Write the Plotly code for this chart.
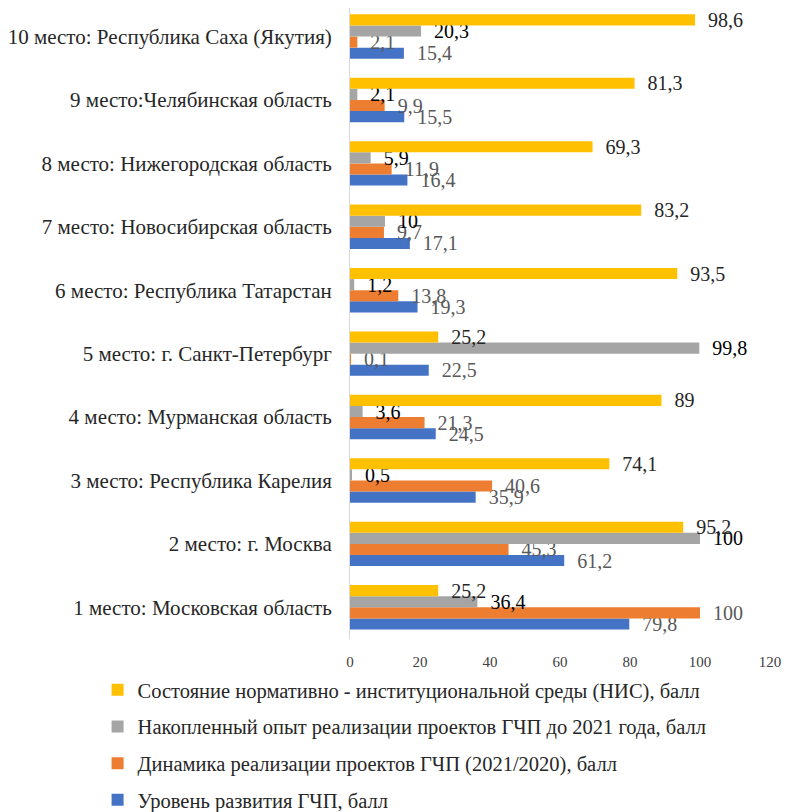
import plotly.graph_objects as go

categories = [
    "1 место: Московская область",
    "2 место: г. Москва",
    "3 место: Республика Карелия",
    "4 место: Мурманская область",
    "5 место: г. Санкт-Петербург",
    "6 место: Республика Татарстан",
    "7 место: Новосибирская область",
    "8 место: Нижегородская область",
    "9 место:Челябинская область",
    "10 место: Республика Саха (Якутия)",
]

level = [79.8, 61.2, 35.9, 24.5, 22.5, 19.3, 17.1, 16.4, 15.5, 15.4]
dynamics = [100, 45.3, 40.6, 21.3, 0.1, 13.8, 9.7, 11.9, 9.9, 2.1]
experience = [36.4, 100, 0.5, 3.6, 99.8, 1.2, 10, 5.9, 2.1, 20.3]
nis = [25.2, 95.2, 74.1, 89, 25.2, 93.5, 83.2, 69.3, 81.3, 98.6]

series_names = [
    "Уровень развития ГЧП, балл",
    "Динамика реализации проектов ГЧП (2021/2020), балл",
    "Накопленный опыт реализации проектов ГЧП до 2021 года, балл",
    "Состояние нормативно - институциональной среды (НИС), балл",
]
series_values = [level, dynamics, experience, nis]
series_colors = ["#4472C4", "#ED7D31", "#A5A5A5", "#FFC000"]
label_colors = ["#595959", "#595959", "#000000", "#262626"]
legend_ranks = [4, 3, 2, 1]

x_ticks = [0, 20, 40, 60, 80, 100, 120]

FONT = "Liberation Serif"


def fmt(v):
    return "  " + f"{v:g}".replace(".", ",")


fig = go.Figure()
for i, (name, vals, col, lcol, rank) in enumerate(
        zip(series_names, series_values, series_colors, label_colors, legend_ranks)):
    fig.add_trace(go.Bar(
        y=categories,
        x=vals,
        name=name,
        orientation="h",
        marker=dict(color=col, line=dict(width=0)),
        text=[fmt(v) for v in vals],
        textposition="outside",
        constraintext="none",
        cliponaxis=False,
        textfont=dict(family=FONT, size=20, color=lcol),
        legendgroup=f"g{i}",
        legendrank=rank,
    ))

fig.update_layout(
    width=782,
    height=804,
    barmode="group",
    bargap=0.3,
    bargroupgap=0,
    paper_bgcolor="white",
    plot_bgcolor="white",
    margin=dict(l=339, r=20, t=0, b=160),
    font=dict(family=FONT, size=20, color="#262626"),
    xaxis=dict(
        range=[0, 120],
        tickvals=x_ticks,
        showgrid=False,
        zeroline=False,
        showline=False,
        tickfont=dict(family=FONT, size=15, color="#404040"),
        ticks="",
        ticklabelstandoff=12,
    ),
    yaxis=dict(
        range=[-0.5, 9.45],
        showgrid=False,
        showline=True,
        linecolor="#D9D9D9",
        linewidth=1,
        ticks="",
        ticklabelstandoff=13,
        tickfont=dict(family=FONT, size=21, color="#262626"),
        categoryorder="array",
        categoryarray=categories,
    ),
    legend=dict(
        traceorder="grouped",
        orientation="v",
        x=-0.601,
        xanchor="left",
        yref="container",
        y=0.1766,
        yanchor="top",
        font=dict(family=FONT, size=20.5, color="#262626"),
        tracegroupgap=7,
        itemwidth=30,
    ),
    showlegend=True,
)

fig.write_html("out.html")
